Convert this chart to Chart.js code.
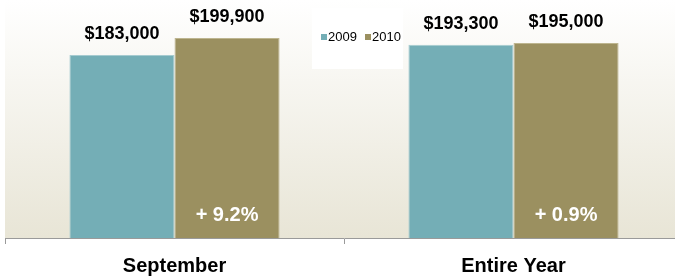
<!DOCTYPE html>
<html>
<head>
<meta charset="utf-8">
<script src="https://cdn.jsdelivr.net/npm/chart.js@4"></script>
<style>
  html, body { margin: 0; padding: 0; background: #ffffff; overflow: hidden; }
  #wrap { width: 683px; height: 277px; position: relative; }
</style>
</head>
<body>
<div id="wrap"><canvas id="chart"></canvas></div>
<script>
const categories = ['September', 'Entire Year'];
const seriesNames = ['2009', '2010'];
const values2009 = [183000, 193300];
const values2010 = [199900, 195000];
const changeLabels = ['+ 9.2%', '+ 0.9%'];

const colors = ['#74aeb6', '#9b9060'];
const fontFamily = 'Arial, "Liberation Sans", sans-serif';

// plot area gradient, white at top to beige at the axis
const plotBackground = {
    id: 'plotBackground',
    beforeDraw(chart) {
        const { ctx, chartArea } = chart;
        const g = ctx.createLinearGradient(0, chartArea.top, 0, chartArea.bottom);
        g.addColorStop(0, '#ffffff');
        g.addColorStop(1, '#e8e5d6');
        ctx.save();
        ctx.fillStyle = g;
        ctx.fillRect(chartArea.left, chartArea.top, chartArea.right - chartArea.left, chartArea.bottom - chartArea.top);
        ctx.restore();
    }
};

// value labels above bars + change labels inside the 2010 bars
const barLabels = {
    id: 'barLabels',
    afterDatasetsDraw(chart) {
        const { ctx, chartArea } = chart;
        ctx.save();
        ctx.textAlign = 'center';
        ctx.textBaseline = 'middle';
        ctx.fillStyle = '#000000';
        ctx.font = 'bold 18px ' + fontFamily;
        chart.data.datasets.forEach((ds, i) => {
            chart.getDatasetMeta(i).data.forEach((bar, j) => {
                ctx.fillText('$' + ds.data[j].toLocaleString('en-US'), bar.x, bar.y - 21);
            });
        });
        ctx.fillStyle = '#ffffff';
        ctx.font = 'bold 20px ' + fontFamily;
        chart.getDatasetMeta(1).data.forEach((bar, j) => {
            ctx.fillText(changeLabels[j], bar.x, chartArea.bottom - 23);
        });
        ctx.restore();
    }
};

// small legend box in the middle of the plot
const boxLegend = {
    id: 'boxLegend',
    afterDraw(chart) {
        const { ctx } = chart;
        ctx.save();
        ctx.fillStyle = '#ffffff';
        ctx.fillRect(312, 8, 91, 61);
        ctx.font = '13px ' + fontFamily;
        ctx.textBaseline = 'middle';
        ctx.textAlign = 'left';
        let x = 321;
        chart.data.datasets.forEach((ds, i) => {
            ctx.fillStyle = colors[i];
            ctx.fillRect(x, 34, 6, 6);
            ctx.fillStyle = '#000000';
            ctx.fillText(ds.label, x + 7, 37.5);
            x += 44;
        });
        ctx.restore();
    }
};

new Chart(document.getElementById('chart'), {
    type: 'bar',
    data: {
        labels: categories,
        datasets: [
            {
                label: seriesNames[0],
                data: values2009,
                backgroundColor: colors[0],
                borderColor: '#a6cbd0',
                borderWidth: 1,
                barPercentage: 1,
                categoryPercentage: 0.62
            },
            {
                label: seriesNames[1],
                data: values2010,
                backgroundColor: colors[1],
                borderColor: '#bdb58f',
                borderWidth: 1,
                barPercentage: 1,
                categoryPercentage: 0.62
            }
        ]
    },
    options: {
        responsive: true,
        maintainAspectRatio: false,
        animation: false,
        layout: { padding: { left: 5, right: 0, top: 0, bottom: 0 } },
        plugins: {
            legend: { display: false },
            tooltip: { enabled: false }
        },
        scales: {
            x: {
                offset: true,
                grid: {
                    display: true,
                    offset: true,
                    drawOnChartArea: false,
                    drawTicks: true,
                    tickLength: 6,
                    color: '#9a9a9a'
                },
                border: { display: true, color: '#9a9a9a', width: 1 },
                ticks: {
                    color: '#000000',
                    padding: 10,
                    font: { family: fontFamily, size: 20, weight: 'bold' }
                },
                afterFit(scale) { scale.height = 39; }
            },
            y: {
                display: false,
                min: 0,
                max: 238000
            }
        }
    },
    plugins: [plotBackground, barLabels, boxLegend]
});
</script>
</body>
</html>
